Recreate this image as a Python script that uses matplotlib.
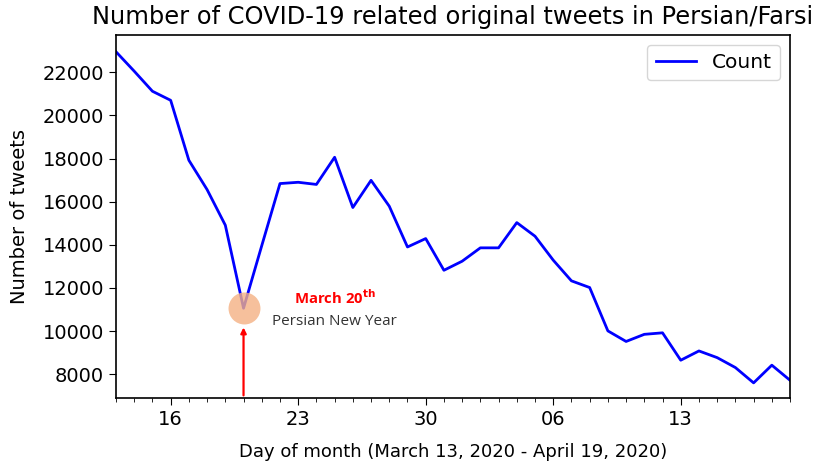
import matplotlib
matplotlib.use("Agg")
import matplotlib.pyplot as plt
import matplotlib.dates as mdates
import numpy as np
import pandas as pd

dates = pd.date_range("2020-03-13", "2020-04-19", freq="D")
counts = [22950, 22050, 21120, 20700, 17920, 16560, 14910, 11060, 13960, 16840,
          16900, 16800, 18060, 15730, 16990, 15790, 13900, 14290, 12820, 13240,
          13860, 13860, 15030, 14400, 13290, 12330, 12020, 10010, 9520, 9850,
          9920, 8650, 9080, 8770, 8310, 7600, 8420, 7720]
event_date = pd.Timestamp("2020-03-20")
event_label = "March 20"
event_name = "Persian New Year"

fig = plt.figure(figsize=(8.17, 4.69), dpi=100)
ax = fig.add_axes([0.142, 0.151, 0.825, 0.774])
ax.plot(dates, counts, color="blue", linewidth=2, label="Count")
ax.set_xlim(dates[0], dates[-1])
ax.set_ylim(6890, 23720)
ax.xaxis.set_major_locator(mdates.WeekdayLocator(byweekday=mdates.MO))
ax.xaxis.set_major_formatter(mdates.DateFormatter("%d"))
ax.xaxis.set_minor_locator(mdates.DayLocator())
ax.tick_params(axis="both", which="major", labelsize=14, length=5)
ax.tick_params(axis="x", which="minor", length=3)
ax.set_yticks(np.arange(8000, 22001, 2000))
for s in ax.spines.values():
    s.set_linewidth(1.2)

ax.set_ylabel("Number of tweets", fontsize=14, labelpad=10)
ax.set_xlabel("Day of month (March 13, 2020 - April 19, 2020)", fontsize=13, labelpad=10)
ax.set_title("Number of COVID-19 related original tweets in Persian/Farsi", fontsize=17.4, pad=8)
ax.legend(loc="upper right", fontsize=14.5)

ev_val = counts[list(dates).index(event_date)]
ax.plot([event_date], [ev_val], "o", markersize=23, color="#f4b183", alpha=0.8,
        markeredgewidth=0, zorder=3)
ax.annotate("", xy=(event_date, ev_val - 760), xytext=(event_date, 6890),
            arrowprops=dict(arrowstyle="-|>", color="red", lw=1.6, mutation_scale=8))
ax.text(pd.Timestamp("2020-03-25"), ev_val + 470, event_label + "$^{\\mathbf{th}}$",
        color="red", fontweight="bold", fontsize=10.7, ha="center", va="center", family="Open Sans")
ax.text(pd.Timestamp("2020-03-25"), ev_val - 600, event_name,
        color="#333333", fontsize=11, ha="center", va="center", family="Open Sans")

fig.savefig("out.png", dpi=100)
